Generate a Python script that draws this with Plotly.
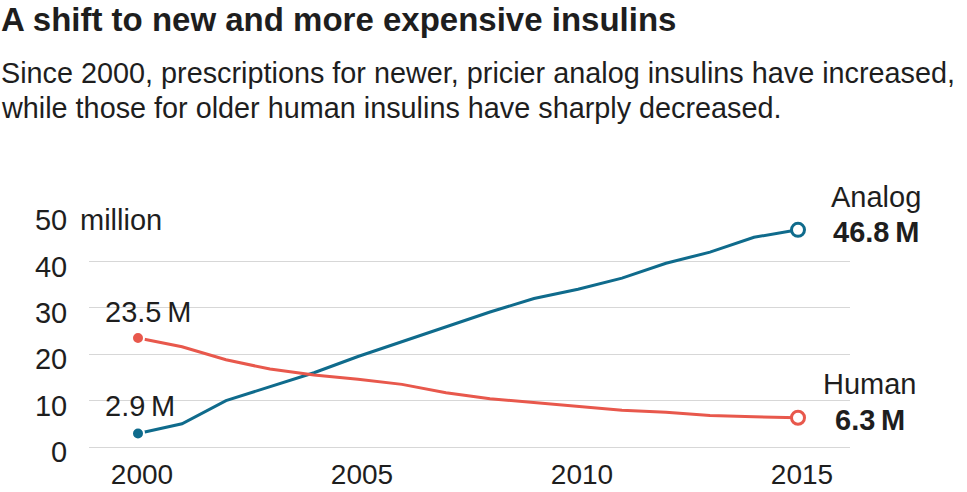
import plotly.graph_objects as go

# data (millions of prescriptions)
years = list(range(2000, 2016))
analog = [2.9, 5.0, 10.0, 13.0, 16.0, 19.5, 22.7, 25.9, 29.1, 32.0, 34.0, 36.4, 39.6, 42.0, 45.2, 46.8]
human = [23.5, 21.6, 18.8, 16.8, 15.5, 14.6, 13.5, 11.7, 10.4, 9.6, 8.8, 7.9, 7.5, 6.8, 6.5, 6.3]

y_ticks = [0, 10, 20, 30, 40, 50]
x_ticks = [2000, 2005, 2010, 2015]

BLUE = "#0f6b8c"
RED = "#e8584c"
INK = "#1e1e1e"
FONT = "Liberation Sans, Arial, Helvetica, sans-serif"
SIZE = 29

# plot area in pixels (967 x 492 page)
L, R, T, B = 89, 850, 215, 447


def px_to_paper(px, py):
    return (px - L) / (R - L), (B - py) / (B - T)


fig = go.Figure()

for vals, color in [(analog, BLUE), (human, RED)]:
    fig.add_trace(go.Scatter(
        x=years, y=vals, mode="lines",
        line=dict(color=color, width=3),
        hoverinfo="skip",
    ))
    # filled dot at the start
    fig.add_trace(go.Scatter(
        x=[years[0]], y=[vals[0]], mode="markers",
        marker=dict(size=12, color=color, line=dict(color="white", width=2)),
        cliponaxis=False, hoverinfo="skip",
    ))
    # open ring at the end
    fig.add_trace(go.Scatter(
        x=[years[-1]], y=[vals[-1]], mode="markers",
        marker=dict(size=13, color="white", line=dict(color=color, width=3)),
        cliponaxis=False, hoverinfo="skip",
    ))

annotations = []

# title and subtitle
for text, py, size, bold in [
    ("A shift to new and more expensive insulins", 19, 33, True),
    ("Since 2000, prescriptions for newer, pricier analog insulins have increased,", 73, 28.8, False),
    ("while those for older human insulins have sharply decreased.", 108, 28.8, False),
]:
    xp, yp = px_to_paper(-1, py)
    annotations.append(dict(
        text=f"<b>{text}</b>" if bold else text,
        xref="paper", yref="paper", x=xp, y=yp,
        xanchor="left", yanchor="middle", showarrow=False,
        font=dict(size=size, color=INK, family=FONT),
    ))

# "million" next to the top tick
xp, _ = px_to_paper(78, 0)
annotations.append(dict(
    text="million", xref="paper", yref="y", x=xp, y=y_ticks[-1], yshift=-5,
    xanchor="left", yanchor="middle", showarrow=False,
    font=dict(size=SIZE, color=INK, family=FONT),
))

# start labels
for vals, ys in [(human, 26), (analog, 28)]:
    annotations.append(dict(
        text=f"{vals[0]}\u2009M", x=years[0], y=vals[0], xshift=-35, yshift=ys,
        xanchor="left", yanchor="middle", showarrow=False,
        font=dict(size=SIZE, color=INK, family=FONT),
    ))

# end labels
for name, vals, xs, ys in [("Analog", analog, 78, 33), ("Human", human, 72, 34)]:
    annotations.append(dict(
        text=name, x=years[-1], y=vals[-1], xshift=xs, yshift=ys,
        xanchor="center", yanchor="middle", showarrow=False,
        font=dict(size=SIZE, color=INK, family=FONT),
    ))
    annotations.append(dict(
        text=f"<b>{vals[-1]}\u2009M</b>", x=years[-1], y=vals[-1], xshift=xs, yshift=-2,
        xanchor="center", yanchor="middle", showarrow=False,
        font=dict(size=SIZE, color=INK, family=FONT),
    ))

fig.update_layout(
    width=967, height=492,
    margin=dict(l=L, r=967 - R, t=T, b=492 - B, pad=0),
    paper_bgcolor="white", plot_bgcolor="white",
    showlegend=False,
    font=dict(family=FONT, color=INK, size=SIZE),
    annotations=annotations,
    xaxis=dict(
        range=[2000 - (138 - L) / 44, 2015 + (R - 798) / 44],
        tickvals=x_ticks, ticks="outside", ticklen=0,
        ticklabelstandoff=2, ticklabelshift=4,
        showgrid=False, zeroline=False, showline=False,
        tickfont=dict(size=28, color=INK),
        automargin=False, fixedrange=True,
    ),
    yaxis=dict(
        range=[0, 50],
        tickvals=y_ticks, ticks="outside", ticklen=0,
        ticklabelstandoff=15, ticklabelshift=5,
        showgrid=True, gridcolor="#d7d7d7", gridwidth=1,
        zeroline=True, zerolinecolor="#d7d7d7", zerolinewidth=1,
        showline=False,
        tickfont=dict(size=SIZE, color=INK),
        automargin=False, fixedrange=True,
    ),
)

# the page body has a default 8px margin; drop it so the figure sits at 0,0
fig.write_html(
    "out.html",
    config={"displayModeBar": False},
    post_script="document.body.style.margin='0';",
)
